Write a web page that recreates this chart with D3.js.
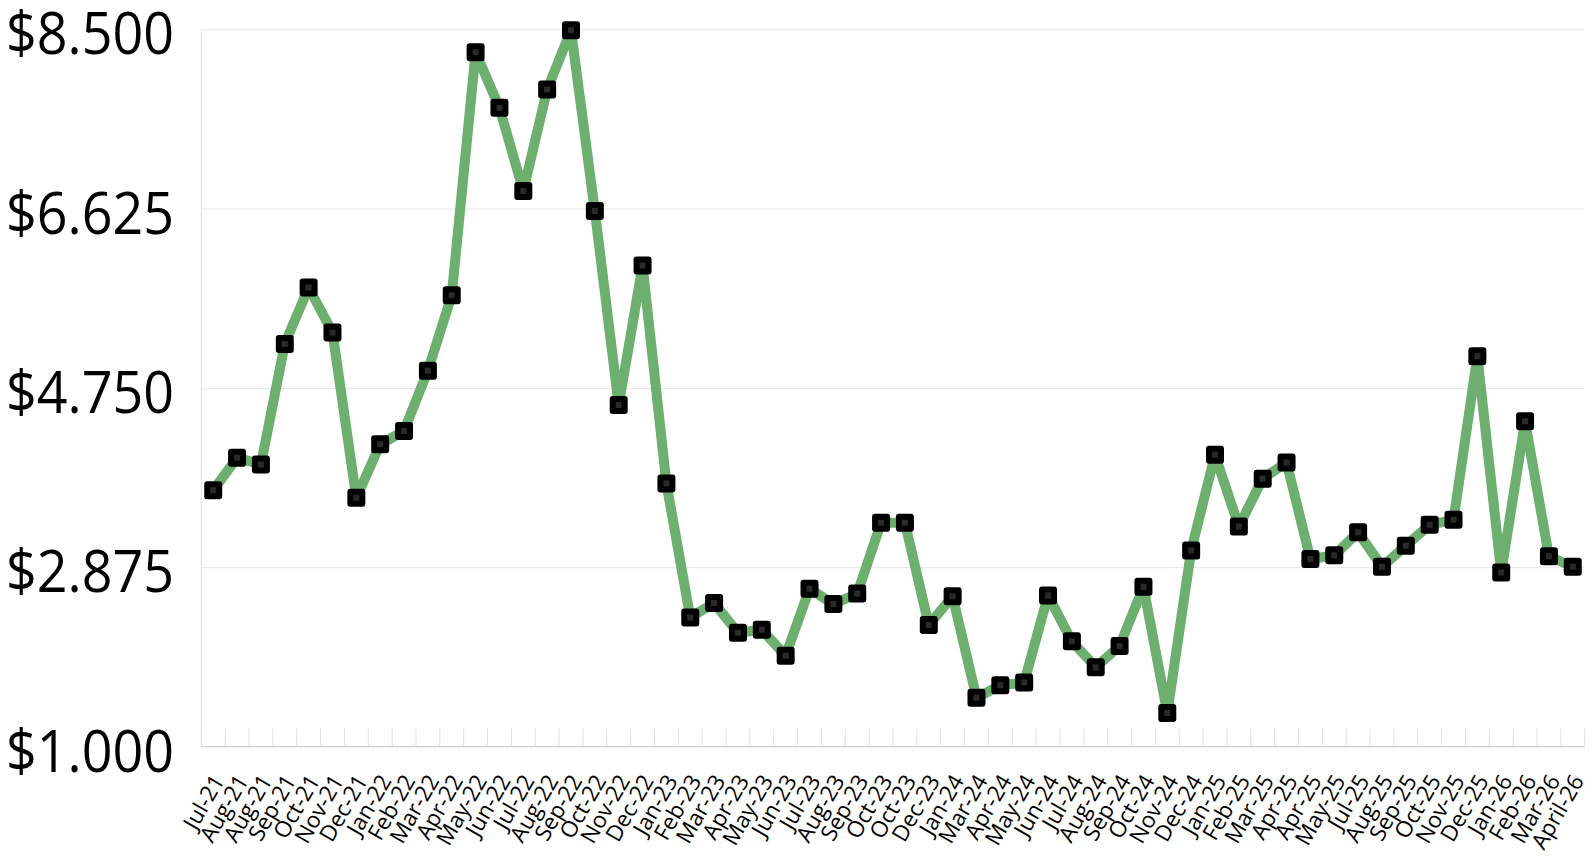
<!DOCTYPE html>
<html>
<head>
<meta charset="utf-8">
<script src="https://cdn.jsdelivr.net/npm/d3@7"></script>
<style>
  html, body { margin: 0; padding: 0; background: #fff; }
  svg { display: block; }
</style>
</head>
<body>
<svg id="chart" width="1593" height="856"></svg>
<script>
const categories = ["Jul-21","Aug-21","Aug-21","Sep-21","Oct-21","Nov-21","Dec-21","Jan-22","Feb-22","Mar-22","Apr-22","May-22","Jun-22","Jul-22","Aug-22","Sep-22","Oct-22","Nov-22","Dec-22","Jan-23","Feb-23","Mar-23","Apr-23","May-23","Jun-23","Jul-23","Aug-23","Sep-23","Oct-23","Oct-23","Dec-23","Jan-24","Mar-24","Apr-24","May-24","Jun-24","Jul-24","Aug-24","Sep-24","Oct-24","Nov-24","Dec-24","Jan-25","Feb-25","Mar-25","Apr-25","Apr-25","May-25","Jul-25","Aug-25","Sep-25","Oct-25","Nov-25","Dec-25","Jan-26","Feb-26","Mar-26","April-26"];

const values = [3.68,4.02,3.95,5.21,5.80,5.33,3.60,4.16,4.30,4.93,5.72,8.26,7.68,6.81,7.87,8.49,6.60,4.57,6.03,3.75,2.35,2.50,2.19,2.22,1.95,2.65,2.49,2.60,3.34,3.34,2.27,2.57,1.51,1.64,1.67,2.58,2.10,1.83,2.05,2.67,1.35,3.05,4.05,3.30,3.80,3.97,2.96,3.00,3.24,2.88,3.10,3.32,3.37,5.08,2.82,4.40,2.99,2.88];

const yTicks = [1.0, 2.875, 4.75, 6.625, 8.5];
const yDomain = [1.0, 8.5];

(function () {
const svg = d3.select("#chart");
const pLeft = 201.3, pRight = 1584.7, pTop = 29.3, pBottom = 746.5;

const idx = d3.range(categories.length);
const x = d3.scaleBand().domain(idx).range([pLeft, pRight]).padding(0);
const y = d3.scaleLinear().domain(yDomain).range([pBottom, pTop]);
const fmt = d3.format("$.3f");

// horizontal gridlines
const gy = svg.append("g")
  .attr("transform", `translate(${pLeft},0)`)
  .call(d3.axisLeft(y).tickValues(yTicks).tickSize(-(pRight - pLeft)).tickFormat(""));
gy.select(".domain").remove();
gy.selectAll(".tick line").attr("stroke", "#e6e6e6").attr("stroke-width", 1);

// left axis line
svg.append("line").attr("x1", pLeft).attr("x2", pLeft).attr("y1", pTop).attr("y2", pBottom)
  .attr("stroke", "#e0e0e0").attr("stroke-width", 1);

// y labels
svg.append("g").selectAll("text").data(yTicks).join("text")
  .attr("x", 174)
  .attr("y", d => y(d) + 25)
  .attr("text-anchor", "end")
  .attr("font-family", "Open Sans, sans-serif")
  .attr("font-size", 58)
  .attr("textLength", 168)
  .attr("lengthAdjust", "spacingAndGlyphs")
  .attr("fill", "#000")
  .text(d => fmt(d));

// x tick marks at band boundaries
const bounds = idx.map(i => x(i)).concat([pRight]);
svg.append("g").selectAll("line").data(bounds).join("line")
  .attr("x1", d => d).attr("x2", d => d)
  .attr("y1", pBottom - 18).attr("y2", pBottom)
  .attr("stroke", "#e0e0e0").attr("stroke-width", 1);

// bottom axis line
svg.append("line").attr("x1", pLeft).attr("x2", pRight).attr("y1", pBottom).attr("y2", pBottom)
  .attr("stroke", "#cfcfcf").attr("stroke-width", 1.2);

// x labels
const gx = svg.append("g")
  .attr("transform", `translate(0,${pBottom})`)
  .call(d3.axisBottom(x).tickSize(0).tickFormat(i => categories[i]));
gx.select(".domain").remove();
gx.selectAll(".tick text")
  .attr("font-family", "Open Sans, sans-serif")
  .attr("font-size", 22.5)
  .attr("fill", "#000")
  .attr("text-anchor", "end")
  .attr("x", 0).attr("y", 0).attr("dy", 0)
  .attr("transform", `translate(12,34) rotate(-60)`);

// line
const line = d3.line().x((d, i) => x(i) + x.bandwidth() / 2).y(d => y(d));
svg.append("path").datum(values)
  .attr("d", line)
  .attr("fill", "none")
  .attr("stroke", "#6daf6f")
  .attr("stroke-width", 10)
  .attr("stroke-linejoin", "miter")
  .attr("stroke-miterlimit", 2);

// markers
svg.append("g").selectAll("rect").data(values).join("rect")
  .attr("x", (d, i) => x(i) + x.bandwidth() / 2 - 6)
  .attr("y", d => y(d) - 6)
  .attr("width", 12).attr("height", 12)
  .attr("fill", "#2a2a2a")
  .attr("stroke", "#000")
  .attr("stroke-width", 6)
  .attr("stroke-linejoin", "round");
})();
</script>
</body>
</html>
